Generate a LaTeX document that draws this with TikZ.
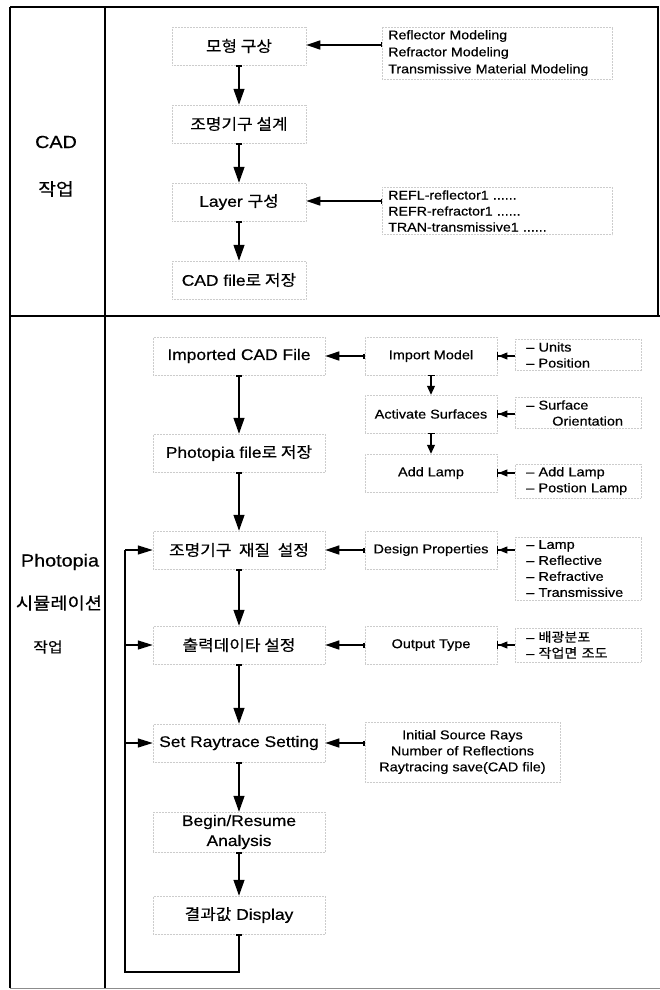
\documentclass[tikz,border=0pt]{standalone}
\usepackage{fontspec}
\setmainfont{Liberation Sans}[FakeStretch=1.13, FakeBold=0.45]
\newfontfamily\kr{Noto Sans CJK KR}[FakeStretch=1.1, FakeBold=0.4]
\usetikzlibrary{arrows.meta}
\newcommand\K[1]{{\kr #1}}
\tikzset{
  frame/.style={line width=2.4pt},
  ghost/.style={draw=black!20, densely dotted, line width=0.5pt},
  tbox/.style={ghost, minimum width=134pt, minimum height=38pt, inner sep=0pt, align=center, font=\fontsize{15.4}{18}\selectfont},
  mbox/.style={ghost, minimum width=172pt, minimum height=38pt, inner sep=0pt, align=center, font=\fontsize{15.4}{20}\selectfont},
  cbox/.style={ghost, minimum width=132pt, minimum height=38pt, inner sep=0pt, align=center, font=\fontsize{12.8}{16}\selectfont},
  rnote/.style={ghost, anchor=west, align=left, text width=104pt, inner xsep=11pt, inner ysep=3pt, font=\fontsize{12.8}{16}\selectfont},
  tnote/.style={ghost, anchor=west, align=left, text width=218pt, inner xsep=6pt, inner ysep=3pt, font=\fontsize{12.6}{17}\selectfont},
  side/.style={font=\fontsize{17.5}{20}\selectfont},
  bigarr/.style={line width=1.3pt, {Bar[width=6pt]}-{Triangle[length=16pt,width=11pt]}},
  looparr/.style={line width=1.3pt, -{Triangle[length=15pt,width=9pt]}},
  leftarr/.style={line width=1.3pt, {Bar[width=5pt]}-{Triangle[length=14pt,width=9pt]}},
  smallarr/.style={line width=1.2pt, -{Triangle[length=9pt,width=7pt]Bar[width=8pt]}},
  downarr/.style={line width=1.2pt, {Bar[width=7pt]}-{Triangle[length=9pt,width=8pt]}},
}
\begin{document}
\begin{tikzpicture}[x=1pt,y=-1pt]
\useasboundingbox (0,0) rectangle (660,990);
\fill[white] (0,0) rectangle (660,990);

% frame
\draw[frame] (10,7) -- (658,7) -- (658,316);
\draw[frame] (10,7) -- (10,988);
\draw[frame] (105,7) -- (105,988);
\draw[frame] (10,316) -- (660,316);
\draw[line width=0.8pt, black!45] (10,988) -- (660,988);

% side labels
\node[side] (lcad) at (56,142) {CAD};
\node[side] (lcadw) at (56,189) {\K{작업}};
\node[side] (lph) at (60,562) {Photopia};
\node[side, font=\fontsize{17}{20}\selectfont] (lsim) at (59,603) {\K{시뮬레이션}};
\node[side, font=\fontsize{14.5}{20}\selectfont] (lphw) at (48,647) {\K{작업}};

% top section
\node[tbox] (m1) at (239,46) {\K{모형 구상}};
\node[tbox] (m2) at (239,124) {\K{조명기구 설계}};
\node[tbox] (m3) at (239,202) {Layer \K{구성}};
\node[tbox] (m4) at (239,280) {CAD file\K{로 저장}};

\node[tnote] (n1) at (382,53) {Reflector Modeling\\Refractor Modeling\\Transmissive Material Modeling};
\node[tnote, font=\fontsize{12.6}{16}\selectfont] (n2) at (382,211) {REFL-reflector1 ......\\REFR-refractor1 ......\\TRAN-transmissive1 ......};

\draw[bigarr] (m1) -- (m2);
\draw[bigarr] (m2) -- (m3);
\draw[bigarr] (m3) -- (m4);
\draw[leftarr] (n1.west |- 0,45) -- (m1.east |- 0,45);
\draw[leftarr] (n2.west |- 0,201) -- (m3.east |- 0,201);

% bottom section, left column
\node[mbox] (b1) at (239,356) {Imported CAD File};
\node[mbox] (b2) at (239,453) {Photopia file\K{로 저장}};
\node[mbox] (b3) at (239,550) {\K{조명기구\ \ 재질\ \ 설정}};
\node[mbox] (b4) at (239,645) {\K{출력데이타 설정}};
\node[mbox] (b5) at (239,743) {Set Raytrace Setting};
\node[mbox, minimum height=40pt] (b6) at (239,832) {Begin/Resume\\Analysis};
\node[mbox] (b7) at (239,915) {\K{결과값} Display};

\draw[bigarr] (b1) -- (b2);
\draw[bigarr] (b2) -- (b3);
\draw[bigarr] (b3) -- (b4);
\draw[bigarr] (b4) -- (b5);
\draw[bigarr] (b5) -- (b6);
\draw[bigarr] (b6) -- (b7);

% loop
\coordinate (lp) at (125,972);
\draw[line width=1.3pt, {Bar[width=6pt]}-] (b7.south) |- (lp) -- (lp |- b3.west);
\draw[looparr] (lp |- b3.west) -- (b3.west);
\draw[looparr] (lp |- b4.west) -- (b4.west);
\draw[looparr] (lp |- b5.west) -- (b5.west);

% middle column
\node[cbox] (c1) at (431,356) {Import Model};
\node[cbox] (c2) at (431,414) {Activate Surfaces};
\node[cbox] (c3) at (431,473) {Add Lamp};
\node[cbox] (c4) at (431,550) {Design Properties};
\node[cbox] (c5) at (431,645) {Output Type};
\node[cbox, minimum width=195pt, minimum height=60pt] (c6) at (462.5,752) {Initial Source Rays\\Number of Reflections\\Raytracing save(CAD file)};

\draw[leftarr] (c1.west) -- (b1.east);
\draw[leftarr] (c4.west) -- (b3.east);
\draw[leftarr] (c5.west) -- (b4.east);
\draw[leftarr] (c6.west |- b5.east) -- (b5.east);
\draw[downarr] (c1) -- (c2);
\draw[downarr] (c2) -- (c3);

% right notes
\node[rnote] (r1) at (515,355) {– Units\\– Position};
\node[rnote] (r2) at (515,413) {– Surface\\\hspace*{26pt}Orientation};
\node[rnote] (r3) at (515,481) {– Add Lamp\\– Postion Lamp};
\node[rnote] (r4) at (515,568.5) {– Lamp\\– Reflective\\– Refractive\\– Transmissive};
\node[rnote] (r5) at (515,645) {– \K{배광분포}\\– \K{작업면 조도}};

\draw[smallarr] (r1.west |- c1.east) -- (c1.east);
\draw[smallarr] (r2.west |- c2.east) -- (c2.east);
\draw[smallarr] (r3.west |- c3.east) -- (c3.east);
\draw[smallarr] (r4.west |- c4.east) -- (c4.east);
\draw[smallarr] (r5.west |- c5.east) -- (c5.east);
\end{tikzpicture}
\end{document}
